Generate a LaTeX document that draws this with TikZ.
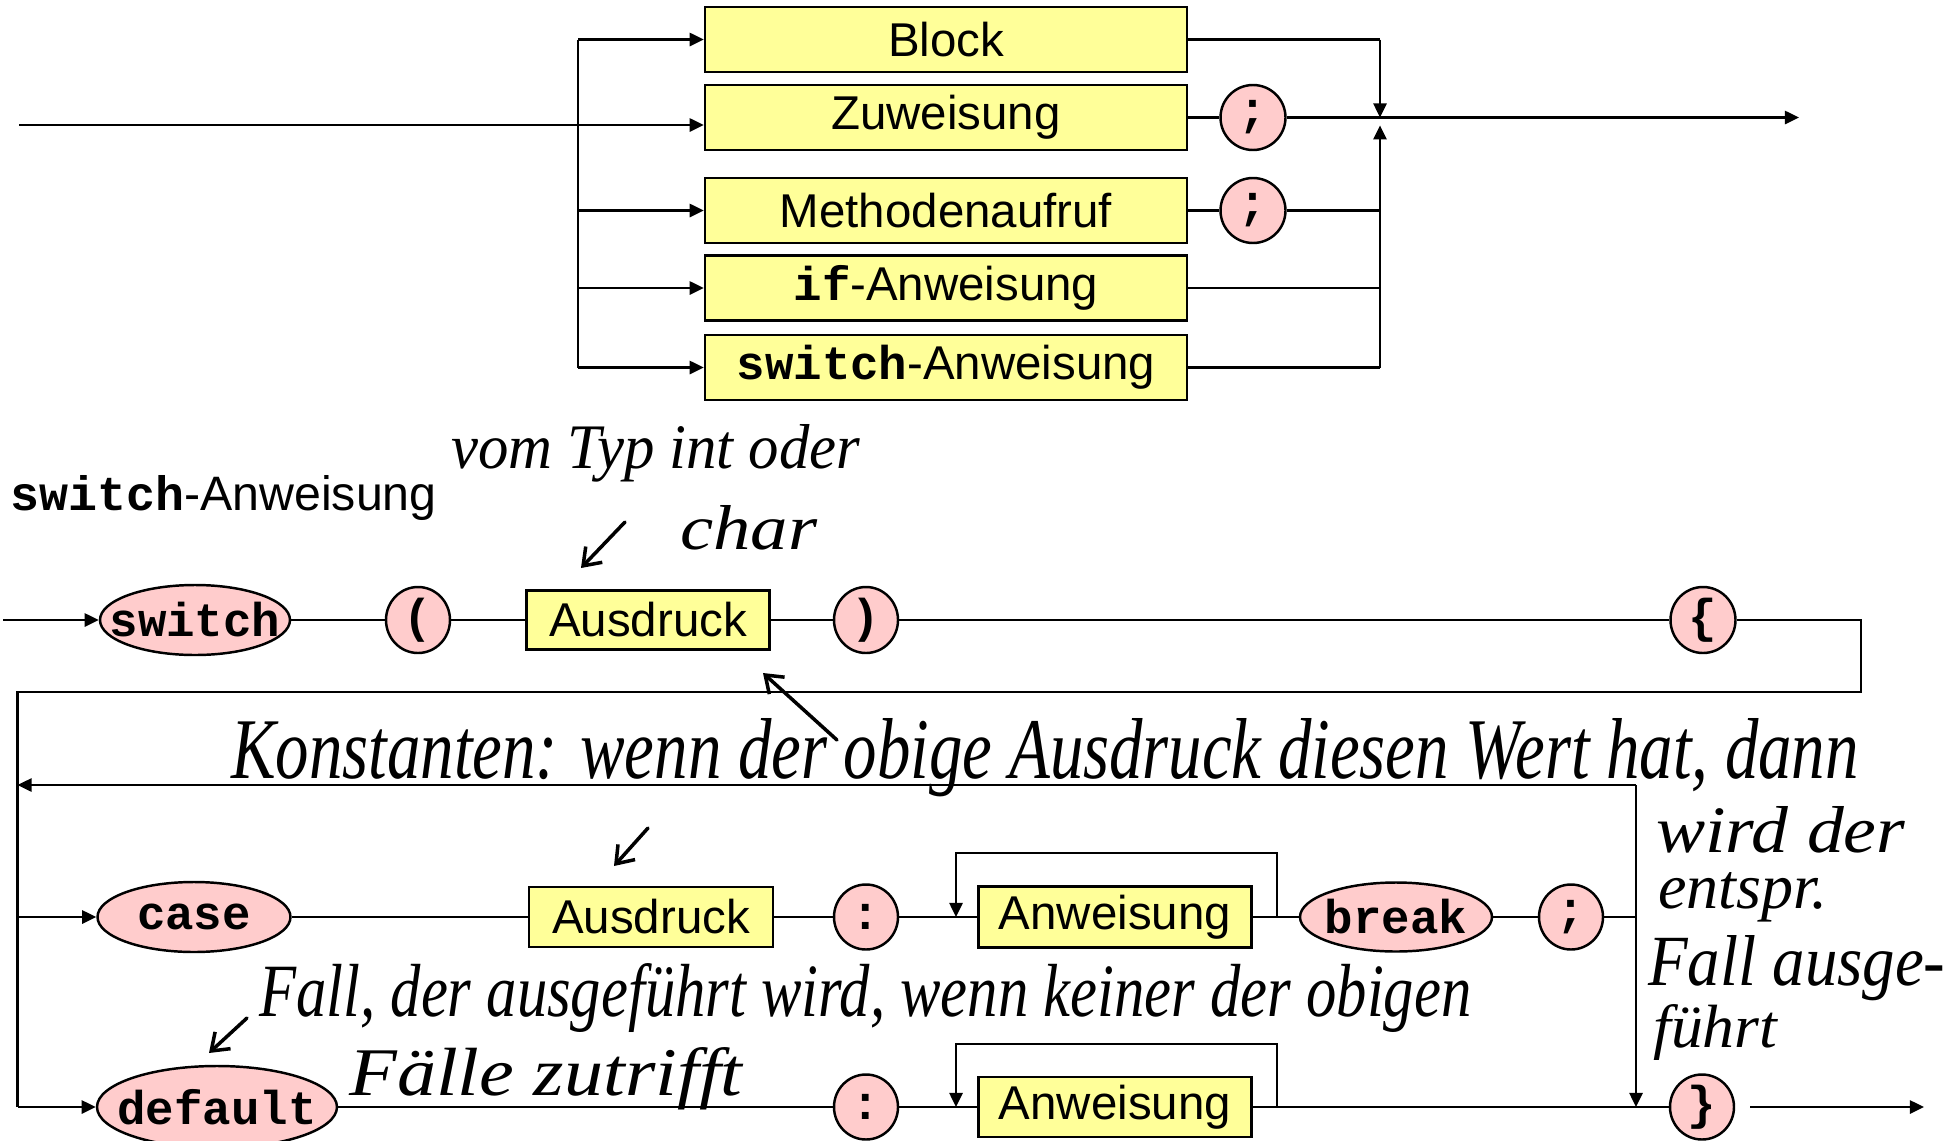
\documentclass[tikz,border=0pt]{standalone}
\usepackage{graphicx}
\usepackage{fontspec}
\setmainfont{Liberation Sans}
\setmonofont{Liberation Mono}
\newfontfamily\hand{Liberation Serif}
\usetikzlibrary{shapes.geometric,arrows.meta}
\newlength\px \setlength\px{0.02cm}
\definecolor{boxyellow}{RGB}{255,255,153}
\definecolor{termpink}{RGB}{255,204,204}
\newcommand\kw[1]{{\ttfamily\bfseries #1}}
\newcommand\mk[1]{\makebox[0pt]{#1}}
\newcommand\hw[3]{\resizebox{#1\px}{#2\px}{\hand\itshape #3}}
\begin{document}
\begin{tikzpicture}[x=0.02cm,y=-0.02cm,
  line/.style={line width=1.2pt},
  arr/.style={line width=1.2pt, -{Triangle[length=8pt,width=7.5pt]}},
  nt/.style={draw, line width=1.4pt, fill=boxyellow, rectangle, inner sep=0pt, font=\fontsize{27}{30}\selectfont},
  term/.style={draw, line width=1.4pt, fill=termpink, ellipse, inner sep=0pt, font=\fontsize{27}{30}\selectfont\ttfamily\bfseries},
  handarr/.style={line width=2pt, line cap=round, -{Straight Barb[length=9pt,width=13pt]}},
  hnote/.style={inner sep=0pt, anchor=base west}
]
\useasboundingbox (0,0) rectangle (1955,1140);

% ---------- top diagram ----------
\node[nt, minimum width=482\px, minimum height=65\px] (blk) at (946,39.5) {Block};
\node[nt, minimum width=482\px, minimum height=65\px] (zuw) at (946,117.5) {Zuweisung};
\node[nt, minimum width=482\px, minimum height=65\px] (meth) at (946,210.5) {Methodenaufruf};
\node[nt, minimum width=482\px, minimum height=65\px] (ifa) at (946,288) {\kw{if}-Anweisung};
\node[nt, minimum width=482\px, minimum height=65\px] (swa) at (946,367.5) {\kw{switch}-Anweisung};
\node[term, minimum width=65\px, minimum height=65\px] (s1) at (1253,117.5) {\mk{;}};
\node[term, minimum width=65\px, minimum height=65\px] (s2) at (1253,210.5) {\mk{;}};

\coordinate (in) at (19,125);
\coordinate (bx) at (578,0);
\coordinate (cx) at (1380,117.5);
\coordinate (out) at (1799,117.5);

\draw[arr] (in) -- (in -| zuw.west);
\draw[line] (bx |- blk.west) -- (bx |- swa.west);
\draw[arr] (bx |- blk.west) -- (blk.west);
\draw[arr] (bx |- meth.west) -- (meth.west);
\draw[arr] (bx |- ifa.west) -- (ifa.west);
\draw[arr] (bx |- swa.west) -- (swa.west);

\draw[line] (zuw.east) -- (s1.west);
\draw[arr] (s1.east) -- (out);
\draw[line] (blk.east) -- (blk.east -| cx);
\draw[arr] (blk.east -| cx) -- (cx);
\draw[line] (meth.east) -- (s2.west) (s2.east) -- (s2.east -| cx);
\draw[line] (ifa.east) -- (ifa.east -| cx);
\draw[line] (swa.east) -- (swa.east -| cx);
\draw[arr, shorten >=4.5pt] (swa.east -| cx) -- (cx);

% ---------- switch statement ----------
\node[anchor=base west, inner sep=0pt, font=\fontsize{27.5}{30}\selectfont] (title) at (10,510) {\kw{switch}-Anweisung};

\coordinate (m0) at (3,620);
\node[term, minimum width=190\px, minimum height=70\px] (sw) at (195,620) {\mk{switch}};
\node[term, minimum width=64\px, minimum height=66\px] (lp) at (418,620) {\mk{(}};
\node[nt, minimum width=243\px, minimum height=59\px] (ex1) at (648,620) {Ausdruck};
\node[term, minimum width=64\px, minimum height=66\px] (rp) at (866,620) {\mk{)}};
\node[term, minimum width=65\px, minimum height=66\px] (lb) at (1703,620) {\mk{\{}};
\coordinate (m1) at (1861,620);
\coordinate (m2) at (1861,692);
\coordinate (m3) at (17.5,692);
\coordinate (m4) at (17.5,1107);

\draw[arr] (m0) -- (sw.west);
\draw[line] (sw.east) -- (lp.west) (lp.east) -- (ex1.west) (ex1.east) -- (rp.west)
  (rp.east) -- (lb.west) (lb.east) -- (m1) -- (m2) -- (m3) -- (m4);

% case row
\node[term, minimum width=193\px, minimum height=70\px] (case) at (194,917) {\mk{case}};
\node[nt, minimum width=244\px, minimum height=60\px] (ex2) at (651,917) {Ausdruck};
\node[term, minimum width=64\px, minimum height=65\px] (c1) at (866,917) {\mk{:}};
\node[nt, minimum width=273\px, minimum height=61\px] (an1) at (1115,917) {Anweisung};
\node[term, minimum width=192\px, minimum height=69\px] (brk) at (1396,917) {\mk{break}};
\node[term, minimum width=64\px, minimum height=65\px] (s3) at (1571,917) {\mk{;}};

% default row
\node[term, minimum width=240\px, minimum height=82\px] (dflt) at (217,1107) {\mk{default}};
\node[term, minimum width=64\px, minimum height=65\px] (c2) at (866,1107) {\mk{:}};
\node[nt, minimum width=273\px, minimum height=60\px] (an2) at (1115,1107) {Anweisung};
\node[term, minimum width=64\px, minimum height=65\px] (rb) at (1702,1107) {\mk{\}}};

\coordinate (lb2) at (1636,785);
\coordinate (l1a) at (956,853);
\coordinate (l1b) at (1277,853);
\coordinate (l2a) at (956,1044);
\coordinate (l2b) at (1277,1044);
\coordinate (o1) at (1750,1107);
\coordinate (o2) at (1924,1107);

\draw[arr] (m3 |- case.west) -- (case.west);
\draw[line] (case.east) -- (ex2.west) (ex2.east) -- (c1.west) (c1.east) -- (an1.west)
  (an1.east) -- (brk.west) (brk.east) -- (s3.west) (s3.east) -- (s3.east -| lb2);
\draw[arr] (l1b |- an1.east) -- (l1b) -- (l1a) -- (l1a |- an1.west);

\draw[arr] (lb2) -- (lb2 -| m3);
\draw[arr] (lb2) -- (lb2 |- rb.west);

\draw[arr] (m4) -- (dflt.west);
\draw[line] (dflt.east) -- (c2.west) (c2.east) -- (an2.west) (an2.east) -- (rb.west);
\draw[arr] (l2b |- an2.east) -- (l2b) -- (l2a) -- (l2a |- an2.west);
\draw[arr] (o1) -- (o2);

% ---------- handwritten notes ----------
\node[hnote] (h1) at (451,468) {\hw{409}{44}{vom Typ int oder}};
\node[hnote] (h2) at (680,549) {\hw{137}{44}{char}};
\node[hnote] (h3) at (231,778) {\hw{1627}{60}{Konstanten: wenn der obige Ausdruck diesen Wert hat, dann}};
\node[hnote] (h4) at (1656,852) {\hw{249}{46}{wird der}};
\node[hnote] (h5) at (1658,908) {\hw{169}{36}{entspr.}};
\node[hnote] (h6) at (1648,985) {\hw{297}{50}{Fall ausge-}};
\node[hnote] (h7) at (1653,1047) {\hw{124}{43}{führt}};
\node[hnote] (h8) at (259,1016) {\hw{1212}{53}{Fall, der ausgeführt wird, wenn keiner der obigen}};
\node[hnote] (h9) at (349,1095) {\hw{393}{48}{Fälle zutrifft}};

\coordinate (a1s) at (625,522); \coordinate (a1e) at (581,568);
\coordinate (a2s) at (837,740); \coordinate (a2e) at (763,673);
\coordinate (a3s) at (648,828); \coordinate (a3e) at (614,866);
\coordinate (a4s) at (247,1018); \coordinate (a4e) at (209,1053);
\draw[handarr] (a1s) -- (a1e);
\draw[handarr] (a2s) -- (a2e);
\draw[handarr] (a3s) -- (a3e);
\draw[handarr] (a4s) -- (a4e);
\end{tikzpicture}
\end{document}
